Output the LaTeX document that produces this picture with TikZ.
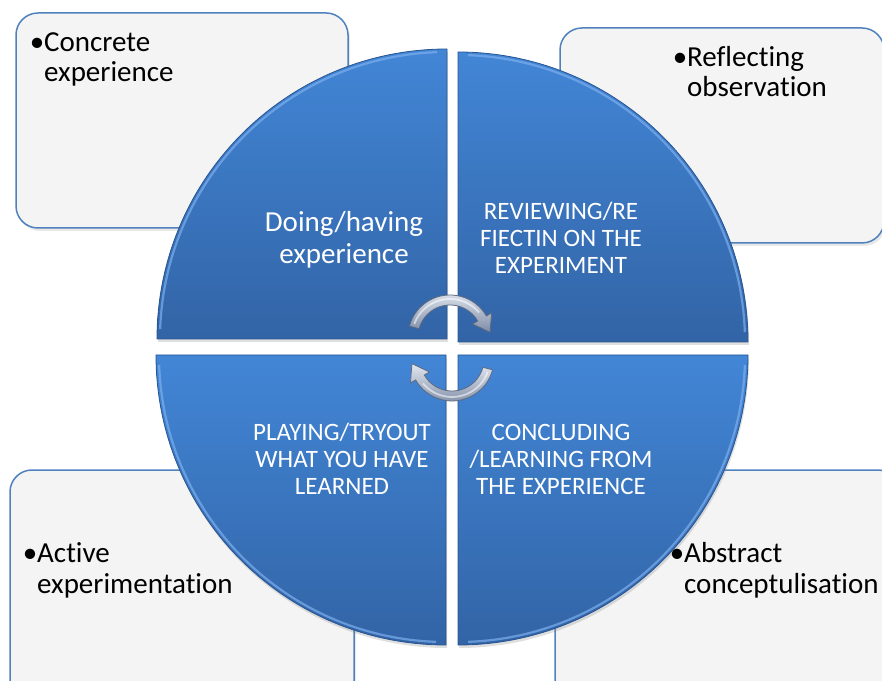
\documentclass[tikz,border=0pt]{standalone}
\usepackage{fontspec}
\setmainfont{Carlito}[Ligatures={NoCommon,NoRare}]
\usetikzlibrary{calc,shadows}
\definecolor{boxfill}{RGB}{244,244,244}
\definecolor{boxline}{RGB}{79,129,189}
\definecolor{qtop}{RGB}{66,134,214}
\definecolor{qbot}{RGB}{50,100,166}
\definecolor{qedge}{RGB}{40,85,145}
\definecolor{qhi}{RGB}{125,175,238}
\definecolor{arrlight}{RGB}{226,231,240}
\definecolor{arrdark}{RGB}{125,140,166}
\definecolor{arredge}{RGB}{92,105,128}
\begin{document}
\begin{tikzpicture}[x=1pt,y=1pt,
  infobox/.style={draw=boxline, line width=1.5pt, fill=boxfill, rounded corners=22pt,
    drop shadow={opacity=0.18, shadow xshift=2pt, shadow yshift=-3pt}},
  quad/.style={top color=qtop, bottom color=qbot, draw=qedge, line width=0.8pt,
    drop shadow={opacity=0.25, shadow xshift=1pt, shadow yshift=-3pt}},
  rim/.style={draw=qhi, line width=2.2pt, opacity=0.7},
  cyc/.style={top color=arrlight, bottom color=arrdark, draw=arredge, line width=0.8pt},
  cychi/.style={draw=white, line width=1.8pt, opacity=0.55},
  qtext/.style={text=white, align=center, inner sep=0pt, font=\fontsize{29}{32}\selectfont},
  qcaps/.style={text=white, align=center, inner sep=0pt, font=\fontsize{25}{27}\selectfont},
  btext/.style={anchor=base west, inner sep=0pt, text=black, font=\fontsize{29}{31}\selectfont}
]
\useasboundingbox (0,0) rectangle (882,680);
\clip (0,0) rectangle (882,680);

% outer boxes
\path[infobox] (16,452) rectangle (348,667);
\path[infobox] (560,437) rectangle (884,652);
\path[infobox] (10,-30) rectangle (354,210);
\path[infobox] (555,-30) rectangle (900,210);

% quadrants
\coordinate (ctl) at (447,341);
\coordinate (ctr) at (458,338);
\coordinate (cbl) at (446,325);
\coordinate (cbr) at (458,325);
\path[quad] (ctl) -- ++(-290,0) arc[start angle=180,end angle=90,radius=290] -- cycle;
\path[quad] (ctr) -- ++(0,290) arc[start angle=90,end angle=0,radius=290] -- cycle;
\path[quad] (cbl) -- ++(-290,0) arc[start angle=180,end angle=270,radius=290] -- cycle;
\path[quad] (cbr) -- ++(290,0) arc[start angle=0,end angle=-90,radius=290] -- cycle;
\draw[rim] ($(ctl)+(178:287)$) arc[start angle=178,end angle=92,radius=287];
\draw[rim] ($(ctr)+(88:287)$) arc[start angle=88,end angle=2,radius=287];
\draw[rim] ($(cbl)+(182:287)$) arc[start angle=182,end angle=268,radius=287];
\draw[rim] ($(cbr)+(-2:287)$) arc[start angle=-2,end angle=-88,radius=287];

% circular arrows
\coordinate (ac1) at (450,343);
\coordinate (ac2) at (452,321);
\path[cyc] ($(ac1)+(165:42)$) arc[start angle=165,end angle=30,radius=42]
  -- ($(ac1)+(30:48)$) -- ($(ac1)+(30:37)+(-60:16)$) -- ($(ac1)+(30:26)$)
  -- ($(ac1)+(30:32)$) arc[start angle=30,end angle=165,radius=32] -- cycle;
\draw[cychi] ($(ac1)+(160:38)$) arc[start angle=160,end angle=40,radius=38];
\path[cyc] ($(ac2)+(-15:42)$) arc[start angle=-15,end angle=-150,radius=42]
  -- ($(ac2)+(210:48)$) -- ($(ac2)+(210:37)+(120:16)$) -- ($(ac2)+(210:26)$)
  -- ($(ac2)+(210:32)$) arc[start angle=-150,end angle=-15,radius=32] -- cycle;
\draw[cychi] ($(ac2)+(-20:38)$) arc[start angle=-20,end angle=-140,radius=38];

% quadrant texts
\node[qtext] (doing) at (344,440) {Doing/having\\experience};
\node[qcaps] (review) at (561,442) {REVIEWING/RE\\FIECTIN ON THE\\EXPERIMENT};
\node[qcaps] (play) at (342,221) {PLAYING/TRYOUT\\WHAT YOU HAVE\\LEARNED};
\node[qcaps] (concl) at (561,221) {CONCLUDING\\/LEARNING FROM\\THE EXPERIENCE};

% box texts
\node[btext] (ce1) at (44,628) {\llap{•}Concrete};
\node[btext] (ce2) at (44,598) {experience};
\node[btext] (ro1) at (687,613) {\llap{•}Reflecting};
\node[btext] (ro2) at (687,583) {observation};
\node[btext] (ae1) at (37,118) {\llap{•}Active};
\node[btext] (ae2) at (37,87) {experimentation};
\node[btext] (ac1t) at (684,118) {\llap{•}Abstract};
\node[btext] (ac2t) at (684,87) {conceptulisation};
\end{tikzpicture}
\end{document}
